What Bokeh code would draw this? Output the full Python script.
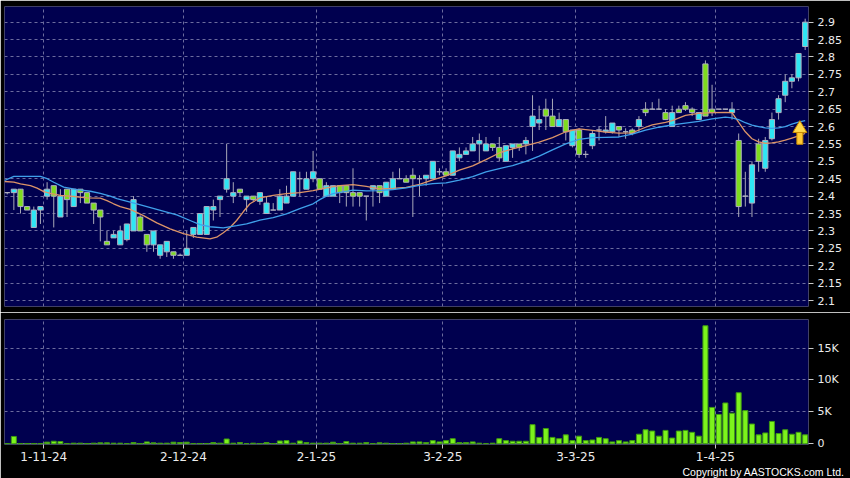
from bokeh.plotting import figure
from bokeh.models import (Range1d, FixedTicker, Grid, Title, ColumnDataSource,
                          CustomJSTickFormatter)
from bokeh.layouts import column
from bokeh.embed import file_html
from bokeh.resources import INLINE

# ---------------- data ----------------
opens = [2.41, 2.41, 2.42, 2.37, 2.31, 2.36, 2.40, 2.43, 2.34, 2.42,
         2.37, 2.42, 2.41, 2.38, 2.36, 2.27, 2.28, 2.26, 2.275, 2.30,
         2.34, 2.29, 2.26, 2.23, 2.24, 2.24, 2.23, 2.23, 2.29, 2.29,
         2.29, 2.36, 2.39, 2.42, 2.40, 2.42, 2.39, 2.40, 2.385, 2.35,
         2.36, 2.36, 2.38, 2.40, 2.45, 2.42, 2.45, 2.45, 2.40, 2.40,
         2.43, 2.43, 2.41, 2.41, 2.40, 2.42, 2.43, 2.40, 2.42, 2.45,
         2.45, 2.46, 2.45, 2.45, 2.45, 2.47, 2.47, 2.46, 2.51, 2.52,
         2.53, 2.55, 2.53, 2.55, 2.54, 2.50, 2.54, 2.55, 2.55, 2.60,
         2.61, 2.65, 2.63, 2.60, 2.62, 2.545, 2.59, 2.52, 2.545, 2.59,
         2.585, 2.585, 2.60, 2.585, 2.59, 2.60, 2.65, 2.65, 2.65, 2.64,
         2.60, 2.65, 2.66, 2.65, 2.62, 2.78, 2.65, 2.65, 2.65, 2.64,
         2.56, 2.40, 2.38, 2.55, 2.48, 2.565, 2.64, 2.69, 2.73, 2.74,
         2.83]
highs = [2.41, 2.42, 2.42, 2.37, 2.37, 2.37, 2.44, 2.43, 2.42, 2.42,
         2.42, 2.42, 2.41, 2.38, 2.36, 2.30, 2.30, 2.315, 2.32, 2.40,
         2.345, 2.29, 2.30, 2.26, 2.27, 2.24, 2.235, 2.30, 2.31, 2.35,
         2.37, 2.39, 2.40, 2.55, 2.44, 2.42, 2.40, 2.40, 2.41, 2.40,
         2.38, 2.42, 2.43, 2.47, 2.47, 2.47, 2.53, 2.45, 2.44, 2.43,
         2.43, 2.43, 2.48, 2.41, 2.40, 2.43, 2.43, 2.44, 2.47, 2.48,
         2.46, 2.48, 2.46, 2.46, 2.50, 2.48, 2.48, 2.53, 2.54, 2.54,
         2.57, 2.58, 2.57, 2.55, 2.57, 2.545, 2.55, 2.55, 2.57, 2.69,
         2.66, 2.68, 2.68, 2.64, 2.62, 2.59, 2.595, 2.53, 2.59, 2.60,
         2.63, 2.61, 2.60, 2.595, 2.595, 2.63, 2.67, 2.67, 2.68, 2.65,
         2.66, 2.66, 2.67, 2.655, 2.64, 2.79, 2.72, 2.65, 2.65, 2.67,
         2.58, 2.47, 2.50, 2.565, 2.57, 2.64, 2.69, 2.75, 2.75, 2.81,
         2.91]
lows = [2.405, 2.36, 2.35, 2.36, 2.31, 2.32, 2.39, 2.31, 2.34, 2.34,
        2.37, 2.38, 2.38, 2.32, 2.27, 2.26, 2.28, 2.26, 2.27, 2.30,
        2.30, 2.24, 2.24, 2.22, 2.225, 2.22, 2.23, 2.23, 2.28, 2.29,
        2.29, 2.33, 2.34, 2.41, 2.38, 2.40, 2.355, 2.385, 2.375, 2.35,
        2.36, 2.36, 2.38, 2.40, 2.40, 2.42, 2.44, 2.42, 2.40, 2.40,
        2.38, 2.37, 2.37, 2.37, 2.33, 2.37, 2.38, 2.40, 2.42, 2.45,
        2.44, 2.34, 2.40, 2.43, 2.45, 2.46, 2.46, 2.46, 2.50, 2.52,
        2.53, 2.50, 2.53, 2.53, 2.50, 2.50, 2.51, 2.53, 2.52, 2.53,
        2.59, 2.59, 2.60, 2.60, 2.56, 2.54, 2.51, 2.51, 2.535, 2.56,
        2.58, 2.58, 2.57, 2.565, 2.575, 2.585, 2.63, 2.65, 2.65, 2.62,
        2.60, 2.64, 2.645, 2.63, 2.62, 2.63, 2.63, 2.65, 2.65, 2.62,
        2.34, 2.37, 2.34, 2.47, 2.47, 2.56, 2.62, 2.67, 2.71, 2.73,
        2.82]
closes = [2.41, 2.42, 2.37, 2.36, 2.36, 2.37, 2.42, 2.40, 2.40, 2.39,
          2.42, 2.41, 2.38, 2.36, 2.34, 2.26, 2.29, 2.30, 2.32, 2.39,
          2.30, 2.26, 2.30, 2.26, 2.27, 2.23, 2.23, 2.25, 2.31, 2.35,
          2.37, 2.37, 2.40, 2.45, 2.41, 2.41, 2.40, 2.39, 2.41, 2.38,
          2.36, 2.40, 2.40, 2.47, 2.45, 2.45, 2.47, 2.42, 2.43, 2.43,
          2.41, 2.41, 2.40, 2.40, 2.40, 2.43, 2.41, 2.44, 2.45, 2.45,
          2.44, 2.45, 2.45, 2.46, 2.50, 2.47, 2.46, 2.53, 2.52, 2.53,
          2.55, 2.56, 2.55, 2.54, 2.51, 2.545, 2.55, 2.54, 2.56, 2.63,
          2.62, 2.63, 2.60, 2.62, 2.585, 2.59, 2.52, 2.52, 2.58, 2.59,
          2.59, 2.61, 2.59, 2.585, 2.58, 2.62, 2.64, 2.65, 2.65, 2.62,
          2.64, 2.64, 2.65, 2.64, 2.64, 2.63, 2.64, 2.65, 2.65, 2.65,
          2.37, 2.40, 2.49, 2.50, 2.56, 2.62, 2.68, 2.73, 2.74, 2.81,
          2.90]
volumes_k = [0.05, 1.15, 0.05, 0.05, 0.05, 0.05, 0.26, 0.4, 0.35, 0.05,
             0.1, 0.1, 0.05, 0.1, 0.15, 0.15, 0.1, 0.1, 0.05, 0.2,
             0.05, 0.3, 0.15, 0.1, 0.1, 0.25, 0.2, 0.25, 0.05, 0.05,
             0.05, 0.2, 0.1, 0.75, 0.1, 0.2, 0.05, 0.1, 0.05, 0.2,
             0.05, 0.45, 0.5, 0.1, 0.45, 0.2, 0.1, 0.1, 0.1, 0.25,
             0.05, 0.35, 0.1, 0.1, 0.2, 0.05, 0.15, 0.1, 0.05, 0.05,
             0.1, 0.3, 0.3, 0.2, 0.5, 0.3, 0.5, 0.8, 0.2, 0.2,
             0.3, 0.1, 0.05, 0.1, 0.8, 0.5, 0.4, 0.4, 0.4, 3.0,
             1.0, 2.4, 1.0, 0.8, 1.4, 0.5, 1.2, 0.5, 0.6, 1.0,
             0.8, 0.3, 0.5, 0.3, 0.5, 1.5, 2.2, 2.0, 1.2, 2.1,
             0.9, 2.0, 2.1, 1.8, 1.2, 18.5, 5.7, 4.6, 6.4, 4.8,
             8.0, 5.2, 3.1, 1.4, 1.7, 3.5, 1.6, 2.2, 1.5, 1.8, 1.4]

# moving averages, read at sample bars
ma_short_x = [-0.4, 1, 2, 3.5, 4.5, 5.5, 6.5, 8, 10, 12, 14, 15, 16, 17, 18.5,
              20.5, 22.5, 24.5, 26.5, 28.5, 30.5, 31.5, 32.5, 33.5, 34.5, 35.5,
              36.5, 38, 40, 42, 44, 46, 48, 50, 52, 54, 56, 58, 60, 62, 64, 66,
              68, 70, 72, 74, 76, 78, 80, 82, 84, 86, 88, 90, 92, 94, 95, 96,
              97, 99, 100, 102, 104, 106, 108, 109, 110, 111, 112, 113, 114,
              115, 116, 117, 118, 119, 120]
ma_short_y = [2.442, 2.44, 2.435, 2.43, 2.423, 2.413, 2.408, 2.402, 2.399,
              2.395, 2.394, 2.387, 2.378, 2.37, 2.362, 2.344, 2.323, 2.306,
              2.292, 2.282, 2.277, 2.282, 2.295, 2.31, 2.33, 2.355, 2.378,
              2.395, 2.402, 2.407, 2.41, 2.416, 2.424, 2.43, 2.433, 2.428,
              2.421, 2.422, 2.425, 2.434, 2.447, 2.458, 2.475, 2.487, 2.505,
              2.524, 2.536, 2.545, 2.555, 2.568, 2.585, 2.593, 2.589, 2.584,
              2.581, 2.582, 2.59, 2.598, 2.605, 2.612, 2.617, 2.632, 2.638,
              2.64, 2.641, 2.64, 2.612, 2.585, 2.565, 2.556, 2.552, 2.553,
              2.556, 2.561, 2.567, 2.573, 2.58]
ma_long_x = [-0.4, 1, 5, 6, 7, 8.5, 10.5, 12.5, 14, 15.5, 16.5, 19.5, 22.5,
             25.5, 27.5, 29, 30.5, 32.5, 34.5, 36, 38, 40, 42, 44, 46, 47, 48,
             49, 50, 52, 54, 56, 58, 60, 62, 64, 66, 68, 70, 72, 74, 76, 78,
             80, 82, 84, 86, 88, 90, 92, 94, 96, 98, 100, 102, 104, 106, 108,
             109, 110, 111, 112, 113, 114, 115, 116, 117, 118, 119, 120]
ma_long_y = [2.445, 2.457, 2.457, 2.45, 2.44, 2.426, 2.419, 2.414, 2.408,
             2.40, 2.393, 2.378, 2.362, 2.346, 2.33, 2.318, 2.312, 2.309,
             2.315, 2.32, 2.331, 2.338, 2.349, 2.364, 2.378, 2.39, 2.40,
             2.407, 2.411, 2.417, 2.415, 2.416, 2.419, 2.424, 2.431, 2.436,
             2.438, 2.446, 2.456, 2.47, 2.479, 2.488, 2.50, 2.515, 2.533,
             2.55, 2.563, 2.568, 2.569, 2.57, 2.578, 2.59, 2.598, 2.605,
             2.61, 2.615, 2.622, 2.627, 2.625, 2.62, 2.611, 2.604, 2.60,
             2.596, 2.595, 2.596, 2.60, 2.607, 2.613, 2.617]

# first trading day of each month (bar index) and its label
month_start_index = [6, 27, 47, 66, 86, 107]
month_labels = ["1-11-24", "2-12-24", "2-1-25", "3-2-25", "3-3-25", "1-4-25"]
price_ticks = [2.1, 2.15, 2.2, 2.25, 2.3, 2.35, 2.4, 2.45, 2.5, 2.55, 2.6,
               2.65, 2.7, 2.75, 2.8, 2.85, 2.9]
price_tick_labels = ["2.1", "2.15", "2.2", "2.25", "2.3", "2.35", "2.4",
                     "2.45", "2.5", "2.55", "2.6", "2.65", "2.7", "2.75",
                     "2.8", "2.85", "2.9"]
vol_ticks = [0, 5000, 10000, 15000]
vol_tick_labels = ["0", "5K", "10K", "15K"]

# ---------------- styling ----------------
BG = "#00004f"
GRID = "#6c6c9e"
UP = "#2ee6f4"
DOWN = "#7edc1e"
EDGE = "#b0b0c0"
WICK = "#a8a8b8"
LABEL = "#ececec"
W = 850

n = len(closes)
idx = list(range(n))
src = ColumnDataSource(dict(
    x=idx, o=opens, h=highs, l=lows, c=closes,
    top=[max(o, c) for o, c in zip(opens, closes)],
    bottom=[min(o, c) for o, c in zip(opens, closes)],
    color=[UP if c >= o else DOWN for o, c in zip(opens, closes)],
    vol=[v * 1000 for v in volumes_k],
))

month_pos = [m - 0.5 for m in month_start_index]

fmt_code = """
for (let j = 0; j < pos.length; j++) {
  if (Math.abs(pos[j] - tick) < 1e-6) { return labels[j]; }
}
return '';
"""


def style_axis(a, ticks, labels, size, tick_out, standoff):
    a.ticker = FixedTicker(ticks=ticks)
    a.formatter = CustomJSTickFormatter(args=dict(pos=ticks, labels=labels), code=fmt_code)
    a.axis_line_color = None
    a.major_tick_line_color = "#c8c8c8"
    a.major_tick_in = 0
    a.major_tick_out = tick_out
    a.minor_tick_line_color = None
    a.major_label_standoff = standoff
    a.major_label_text_color = LABEL
    a.major_label_text_font = "DejaVu Sans"
    a.major_label_text_font_size = size


xr = Range1d(-0.406, 120.5)

# ---------------- price panel ----------------
price = figure(width=W, height=312, x_range=xr, y_range=Range1d(2.0828, 2.945),
               output_backend="svg", toolbar_location=None,
               x_axis_location=None, y_axis_location="right",
               min_border_left=4, min_border_right=42,
               min_border_top=6, min_border_bottom=6,
               background_fill_color=BG, border_fill_color="black",
               outline_line_color=None)
price.grid.visible = False
price.add_layout(Grid(dimension=0, ticker=FixedTicker(ticks=month_pos),
                      grid_line_color=GRID, grid_line_dash="3 3"))
price.add_layout(Grid(dimension=1, ticker=FixedTicker(ticks=price_ticks),
                      grid_line_color=GRID, grid_line_dash="3 3"))
style_axis(price.yaxis[0], price_ticks, price_tick_labels, "11px", 5, 4)

price.segment(x0="x", y0="h", x1="x", y1="l", source=src, line_color=WICK, line_width=1)
price.vbar(x="x", width=0.78, top="top", bottom="bottom", source=src,
           fill_color="color", line_color=EDGE, line_width=1)
price.line(ma_short_x, ma_short_y, line_color="#dc9468", line_width=1.3)
price.line(ma_long_x, ma_long_y, line_color="#3fa0ea", line_width=1.3)

# yellow arrow at the end of the long average
ax = idx[-1] - 0.8
tip = ma_long_y[-1]
price.vbar(x=[ax], width=0.9, top=[tip - 0.033], bottom=[tip - 0.068],
           fill_color="#ffc933", line_color="#c88a00", line_width=1)
price.patch([ax - 1.05, ax, ax + 1.05], [tip - 0.034, tip, tip - 0.034],
            fill_color="#ffd94a", line_color="#c88a00", line_width=1)

# ---------------- volume panel ----------------
vol = figure(width=W, height=166, x_range=xr, y_range=Range1d(-110, 19480),
             output_backend="svg", toolbar_location=None,
             y_axis_location="right",
             min_border_left=4, min_border_right=42,
             min_border_top=7, min_border_bottom=34,
             background_fill_color=BG, border_fill_color="black",
             outline_line_color=None)
vol.grid.visible = False
vol.add_layout(Grid(dimension=0, ticker=FixedTicker(ticks=month_pos),
                    grid_line_color=GRID, grid_line_dash="3 3"))
vol.add_layout(Grid(dimension=1, ticker=FixedTicker(ticks=vol_ticks),
                    grid_line_color=GRID, grid_line_dash="3 3"))
style_axis(vol.yaxis[0], vol_ticks, vol_tick_labels, "11px", 5, 4)
style_axis(vol.xaxis[0], month_pos, month_labels, "12px", 4, 3)

vol.vbar(x="x", width=0.75, top="vol", bottom=0, source=src,
         fill_color="#7cf31c", line_color="#3f9a12", line_width=1)

vol.add_layout(Title(text="Copyright by AASTOCKS.com Ltd.", align="right",
                     text_color="white", text_font="Liberation Sans",
                     text_font_size="10.5px", text_font_style="normal",
                     standoff=0, offset=-36), "below")

layout = column(price, vol, spacing=0)
open("out.html", "w").write(file_html(layout, INLINE))
